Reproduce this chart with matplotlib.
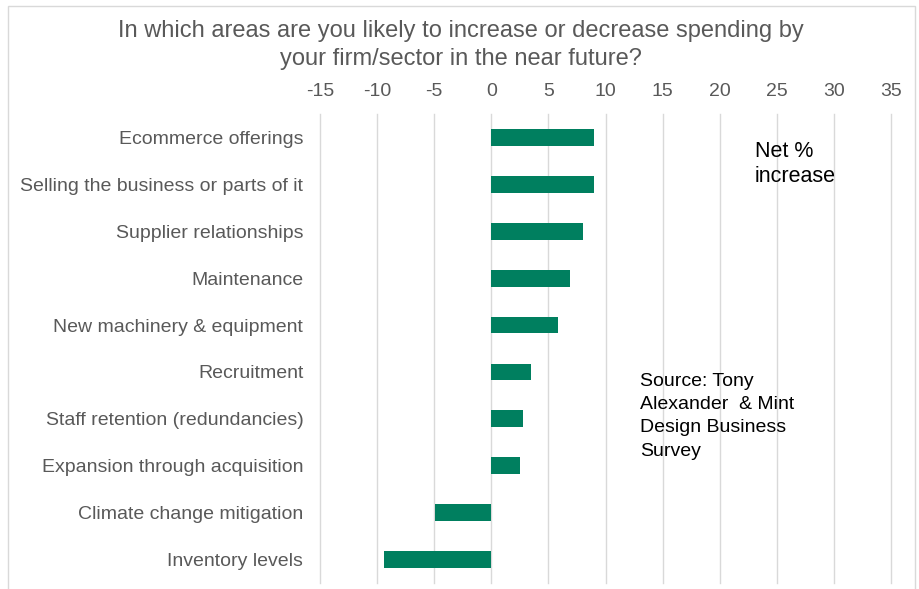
import numpy as np
import matplotlib.pyplot as plt
from matplotlib.patches import Rectangle

plt.rcParams['font.family'] = ['Liberation Sans', 'DejaVu Sans']

# Net % of firms expecting to increase spending, by area
areas = ['Ecommerce offerings', 'Selling the business or parts of it',
         'Supplier relationships', 'Maintenance', 'New machinery & equipment',
         'Recruitment', 'Staff retention (redundancies)',
         'Expansion through acquisition', 'Climate change mitigation',
         'Inventory levels']
net_pct = [9.0, 9.0, 8.0, 6.9, 5.8, 3.5, 2.8, 2.5, -4.9, -9.4]
xticks = np.arange(-15, 40, 5)

grey = '#595959'
green = '#007F5F'
W, H = 920, 589

fig = plt.figure(figsize=(9.2, 5.89), dpi=100)
ax = fig.add_axes([320/W, 1-583/H, 571/W, 469/H])

y = np.arange(len(areas))
ax.barh(y, net_pct, height=0.36, color=green, zorder=3)

ax.set_xlim(-15, 35)
ax.set_ylim(len(areas)-0.5, -0.5)
ax.set_xticks(xticks)
ax.set_xticklabels([str(t) for t in xticks])
ax.xaxis.tick_top()
ax.set_yticks(y)
ax.set_yticklabels(areas)
ax.tick_params(axis='both', length=0, labelsize=14, labelcolor=grey)
ax.tick_params(axis='x', pad=10)
ax.tick_params(axis='y', pad=12)
ax.grid(axis='x', color='#d9d9d9', linewidth=1, zorder=0)
for gl in ax.get_xgridlines():
    gl.set_clip_on(False)
for s in ax.spines.values():
    s.set_visible(False)

fig.text(461/W, 1-45/H, 'In which areas are you likely to increase or decrease spending by\nyour firm/sector in the near future?',
         ha='center', va='center', fontsize=17, color=grey, linespacing=1.4)

fig.text(755/W, 1-141/H, 'Net %\nincrease', fontsize=15.5, color='black',
         va='top', ha='left', linespacing=1.25)
fig.text(640/W, 1-373/H, 'Source: Tony\nAlexander  & Mint\nDesign Business\nSurvey', fontsize=14,
         color='black', va='top', ha='left', linespacing=1.48)

# outer frame around the chart area
fig.patches.append(Rectangle((8/W, -0.01), 907/W, 1-6/H+0.01, transform=fig.transFigure,
                             fill=False, edgecolor='#d9d9d9', linewidth=1))

fig.savefig('out.png', dpi=100)
